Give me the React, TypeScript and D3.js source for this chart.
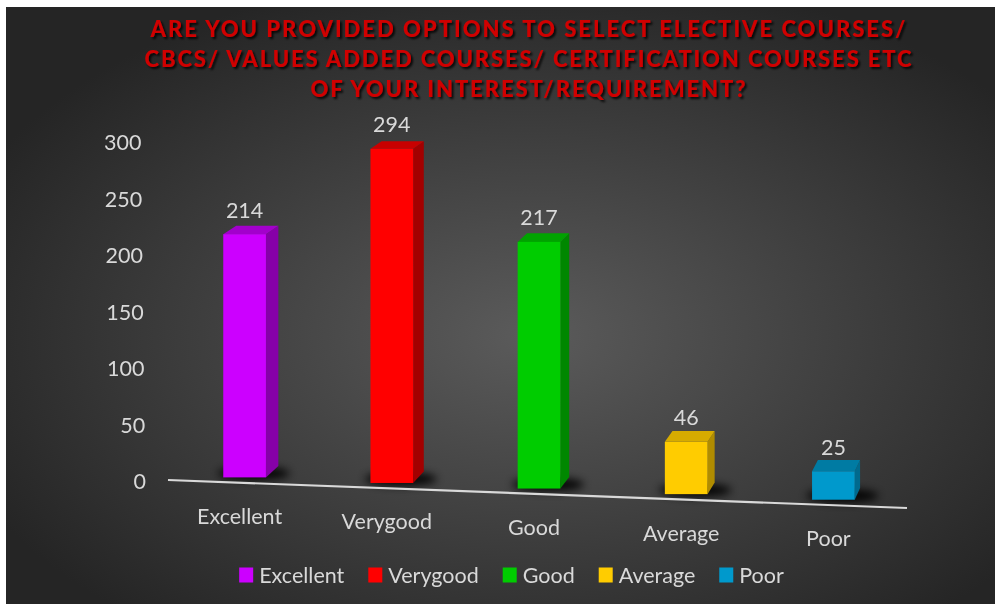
import React, { useEffect, useRef } from 'react';
import * as d3 from 'd3';

// chart data
const categories = ['Excellent', 'Verygood', 'Good', 'Average', 'Poor'];
const values = [214, 294, 217, 46, 25];
const frontColors = ['#cc00ff', '#ff0000', '#00cc00', '#ffcc00', '#0099cc'];
const sideColors = ['#8600a8', '#a30000', '#008700', '#b08c00', '#006a8e'];
const topColors = ['#a300cc', '#c80000', '#00a300', '#d6ab00', '#007ba3'];
const yTicks = [0, 50, 100, 150, 200, 250, 300];
const titleLines = [
  'ARE YOU PROVIDED OPTIONS TO SELECT ELECTIVE COURSES/',
  'CBCS/ VALUES ADDED COURSES/ CERTIFICATION COURSES ETC',
  'OF YOUR INTEREST/REQUIREMENT?',
];

const W = 995;
const H = 604;
const FONT = 'Lato, "Open Sans", sans-serif';
const FS = 21.5;

export default function App() {
  const ref = useRef<SVGSVGElement>(null);

  useEffect(() => {
    const svg = d3.select(ref.current);
    svg.selectAll('*').remove();

    const defs = svg.append('defs');
    const grad = defs.append('radialGradient')
      .attr('id', 'bg')
      .attr('cx', '53%').attr('cy', '55%').attr('r', '62%');
    grad.append('stop').attr('offset', '0%').attr('stop-color', '#5b5b5b');
    grad.append('stop').attr('offset', '100%').attr('stop-color', '#252525');

    defs.append('filter').attr('id', 'blur')
      .attr('x', '-50%').attr('y', '-100%').attr('width', '200%').attr('height', '300%')
      .append('feGaussianBlur').attr('stdDeviation', 4);

    const ts = defs.append('filter').attr('id', 'tshadow')
      .attr('x', '-5%').attr('y', '-30%').attr('width', '110%').attr('height', '160%');
    ts.append('feDropShadow')
      .attr('dx', 2).attr('dy', 2).attr('stdDeviation', 1.2)
      .attr('flood-color', '#000').attr('flood-opacity', 0.85);

    // chart area
    svg.append('rect')
      .attr('x', 6).attr('y', 7)
      .attr('width', W - 6).attr('height', H - 7)
      .attr('fill', 'url(#bg)');

    // title
    const titleWidths = [755, 767, 435];
    const titleY = [28, 58, 88];
    svg.append('g').attr('filter', 'url(#tshadow)')
      .selectAll('text')
      .data(titleLines)
      .join('text')
      .attr('x', 528)
      .attr('y', (d, i) => titleY[i])
      .attr('text-anchor', 'middle')
      .attr('dominant-baseline', 'central')
      .attr('textLength', (d, i) => titleWidths[i])
      .attr('lengthAdjust', 'spacing')
      .attr('font-family', FONT)
      .attr('font-weight', 900)
      .attr('font-size', 22)
      .attr('fill', '#d00000')
      .text(d => d);

    // scales
    const x = d3.scaleBand().domain(categories).range([171, 907]).padding(0);
    const hScale = d3.scaleLinear().domain([0, 300]).range([0, 341]);
    const yAxis = d3.scaleLinear().domain([0, 300]).range([481, 142]);
    const floorY = d3.scaleLinear().domain([168, 907]).range([480, 508]);

    // perspective vanishing point for depth
    const VP = [1300, -470];
    const k = 0.012;
    const back = (p: number[]) => [p[0] + k * (VP[0] - p[0]), p[1] + k * (VP[1] - p[1])];

    // y tick labels
    svg.append('g')
      .selectAll('text')
      .data(yTicks)
      .join('text')
      .attr('x', d => 146 - 4.5 * d / 300)
      .attr('y', d => yAxis(d))
      .attr('text-anchor', 'end')
      .attr('dominant-baseline', 'central')
      .attr('font-family', FONT)
      .attr('font-size', FS)
      .attr('fill', '#d9d9d9')
      .text(d => d);

    const barW = x.bandwidth() * 0.29;
    const bars = categories.map((c, i) => {
      const cx = (x(c) as number) + x.bandwidth() / 2;
      const bottom = floorY(cx) - 5.5;
      const top = bottom - hScale(values[i]);
      const l = cx - barW / 2;
      const r = cx + barW / 2;
      return { c, i, cx, bottom, top, l, r };
    });

    // floor shadows
    svg.append('g')
      .selectAll('ellipse')
      .data(bars)
      .join('ellipse')
      .attr('cx', b => b.cx + 9)
      .attr('cy', b => b.bottom - 4)
      .attr('rx', 36)
      .attr('ry', 7)
      .attr('fill', '#000')
      .attr('opacity', 0.9)
      .attr('filter', 'url(#blur)');

    const line = d3.line();
    const gBars = svg.append('g');
    bars.forEach(b => {
      const ftl = [b.l, b.top];
      const ftr = [b.r, b.top];
      const fbr = [b.r, b.bottom];
      const btl = back(ftl);
      const btr = back(ftr);
      const bbr = back(fbr);
      gBars.append('path')
        .attr('d', line([ftr, btr, bbr, fbr] as [number, number][]) + 'Z')
        .attr('fill', sideColors[b.i]);
      gBars.append('path')
        .attr('d', line([ftl, ftr, btr, btl] as [number, number][]) + 'Z')
        .attr('fill', topColors[b.i]);
      gBars.append('rect')
        .attr('x', b.l).attr('y', b.top)
        .attr('width', barW).attr('height', b.bottom - b.top)
        .attr('fill', frontColors[b.i]);
    });

    // floor line
    svg.append('line')
      .attr('x1', 168).attr('y1', floorY(168))
      .attr('x2', 907).attr('y2', floorY(907))
      .attr('stroke', '#d9d9d9')
      .attr('stroke-width', 2.2);

    // data labels
    svg.append('g')
      .selectAll('text')
      .data(bars)
      .join('text')
      .attr('x', b => b.cx)
      .attr('y', b => b.top - 24.5)
      .attr('text-anchor', 'middle')
      .attr('dominant-baseline', 'central')
      .attr('font-family', FONT)
      .attr('font-size', FS)
      .attr('fill', '#d9d9d9')
      .text(b => values[b.i]);

    // category labels
    svg.append('g')
      .selectAll('text')
      .data(bars)
      .join('text')
      .attr('x', b => b.cx - 5)
      .attr('y', b => floorY(b.cx) + 33)
      .attr('text-anchor', 'middle')
      .attr('dominant-baseline', 'central')
      .attr('font-family', FONT)
      .attr('font-size', FS)
      .attr('fill', '#d9d9d9')
      .text(b => b.c);

    // legend
    const legend = svg.append('g');
    const items = categories.map((c, i) => {
      const g = legend.append('g');
      g.append('rect')
        .attr('x', 0).attr('y', -7.5)
        .attr('width', 14).attr('height', 15)
        .attr('fill', frontColors[i]);
      const t = g.append('text')
        .attr('x', 20).attr('y', 0)
        .attr('dominant-baseline', 'central')
        .attr('font-family', FONT)
        .attr('font-size', FS)
        .attr('fill', '#d9d9d9')
        .text(c);
      const tw = (t.node() as SVGTextElement).getComputedTextLength();
      return { g, w: 20 + tw };
    });
    const gap = 24;
    const total = d3.sum(items, d => d.w) + gap * (items.length - 1);
    let pos = 511.5 - total / 2;
    items.forEach(it => {
      it.g.attr('transform', `translate(${pos},575)`);
      pos += it.w + gap;
    });
  }, []);

  return (
    <div style={{ position: 'fixed', left: 0, top: 0 }}>
      <svg ref={ref} width={W} height={H} style={{ display: 'block' }} />
    </div>
  );
}
